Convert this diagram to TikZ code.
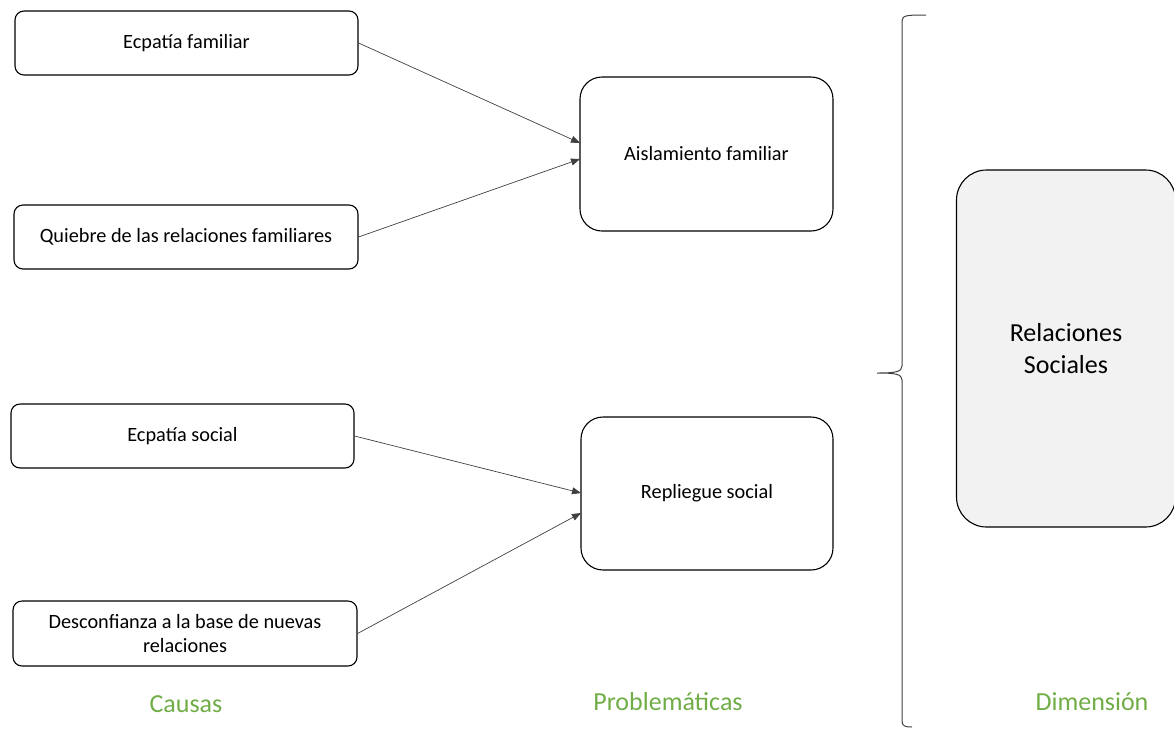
\documentclass[tikz,border=0pt]{standalone}
\usepackage{fontspec}
\setmainfont{Carlito}
\usetikzlibrary{arrows.meta}
\definecolor{lblgreen}{HTML}{70AD47}
\definecolor{boxfill}{HTML}{F2F2F2}
\definecolor{linegray}{HTML}{404040}
\tikzset{
  cause/.style={draw=black, line width=1.1pt, rounded corners=9pt, align=center,
    font=\fontsize{20.3}{23.5}\selectfont, inner sep=0pt},
  prob/.style={draw=black, line width=1.1pt, rounded corners=22pt, align=center,
    font=\fontsize{20.3}{24}\selectfont, inner sep=0pt},
  dim/.style={draw=black, line width=1.1pt, fill=boxfill, rounded corners=30pt, align=center,
    font=\fontsize{26}{32}\selectfont, inner sep=0pt},
  heading/.style={text=lblgreen, font=\fontsize{26}{30}\selectfont},
  conn/.style={draw=linegray, line width=0.7pt, -{Triangle[length=9pt,width=7pt]}, shorten >=0pt},
  bracestyle/.style={draw=linegray, line width=1pt}
}
\begin{document}
\begin{tikzpicture}[x=1pt,y=-1pt]
\useasboundingbox (0,0) rectangle (1174,729);
% cause boxes
\node[cause, minimum width=343pt, minimum height=64pt] (c1) at (186.5,43) {Ecpatía familiar};
\node[cause, minimum width=344pt, minimum height=64pt] (c2) at (186,237) {Quiebre de las relaciones familiares};
\node[cause, minimum width=343pt, minimum height=64pt] (c3) at (182.5,436) {Ecpatía social};
\node[cause, minimum width=344pt, minimum height=65pt] (c4) at (185,633.5) {Desconfianza a la base de nuevas\\relaciones};
% problem boxes
\node[prob, minimum width=253pt, minimum height=154pt] (p1) at (706.5,154) {Aislamiento familiar};
\node[prob, minimum width=252pt, minimum height=153pt] (p2) at (707,493.5) {Repliegue social};
% dimension box
\node[dim, minimum width=219pt, minimum height=357pt] (d1) at (1066,348.5) {Relaciones\\Sociales};
% arrow end points
\coordinate (e1) at (580,143);
\coordinate (e2) at (580,159);
\coordinate (e3) at (581,493);
\coordinate (e4) at (581,513);
\draw[conn] (c1.east) -- (e1);
\draw[conn] (c2.east) -- (e2);
\draw[conn] (c3.east) -- (e3);
\draw[conn] (c4.east) -- (e4);
% brace
\draw[bracestyle] (926,15) .. controls (908,15) and (902,15) .. (902,21)
  -- (902,366) .. controls (902,372) and (895,373) .. (877,373)
  .. controls (895,373) and (902,374) .. (902,380)
  -- (902,721) .. controls (902,726) and (905,727) .. (912,727);
% headings
\node[heading] (h1) at (186,704) {Causas};
\node[heading] (h2) at (668,702) {Problemáticas};
\node[heading] (h3) at (1092,702) {Dimensión};
\end{tikzpicture}
\end{document}
